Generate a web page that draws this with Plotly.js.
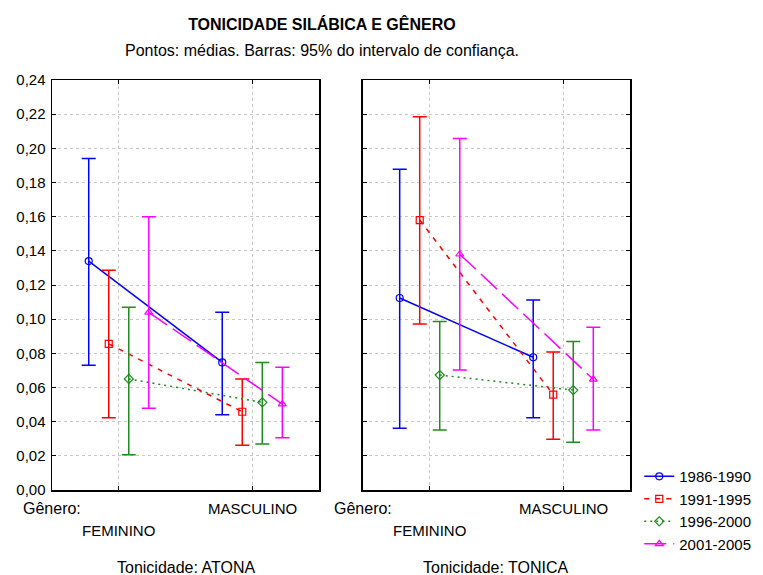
<!DOCTYPE html>
<html>
<head>
<meta charset="utf-8">
<script src="https://cdn.plot.ly/plotly-3.0.1.min.js"></script>
<style>
html,body{margin:0;padding:0;background:#fff;}
#chart{width:763px;height:575px;}
</style>
</head>
<body>
<div id="chart"></div>
<script>
// ---- data ----
const generos = ['FEMININO', 'MASCULINO'];
const periodos = ['1986-1990', '1991-1995', '1996-2000', '2001-2005'];
// each row = one period, values = [FEMININO, MASCULINO]
const atonaMedia = [[0.134, 0.0747], [0.0855, 0.0458], [0.065, 0.0513], [0.104, 0.0503]];
const atonaSup   = [[0.194, 0.104],  [0.1286, 0.065],  [0.107, 0.0747], [0.160, 0.0718]];
const atonaInf   = [[0.073, 0.0441], [0.0423, 0.0262], [0.0207, 0.0269], [0.0478, 0.0306]];
const tonicaMedia = [[0.1124, 0.0777], [0.158, 0.0558], [0.0673, 0.0585], [0.138, 0.0648]];
const tonicaSup   = [[0.1877, 0.1112], [0.2185, 0.0808], [0.0987, 0.087], [0.2057, 0.0952]];
const tonicaInf   = [[0.0361, 0.0423], [0.0972, 0.0297], [0.0351, 0.0279], [0.0702, 0.0351]];
const paineis = ['Tonicidade: ATONA', 'Tonicidade: TONICA'];

// ---- styles ----
const cores = ['#0000ff', '#ff0000', '#1e8c1e', '#ff00ff'];
const simbolos = ['circle-open', 'square-open', 'diamond-open', 'triangle-up-open'];
const tracos = ['solid', '5px,6px', '2px,4px', '22px,7px'];
const FONT = '"Liberation Sans", Arial, sans-serif';

const traces = [];
function addPanel(media, sup, inf, xa, ya, showLeg) {
  periodos.forEach((p, i) => {
    traces.push({
      type: 'scatter', mode: 'lines+markers',
      x: generos, y: media[i],
      xaxis: xa, yaxis: ya,
      name: p, legendgroup: p, showlegend: showLeg,
      line: {color: cores[i], width: 1.5, dash: tracos[i]},
      marker: {symbol: simbolos[i], size: 7, color: cores[i], line: {width: 1.2, color: cores[i]}},
      error_y: {
        type: 'data', symmetric: false,
        array: sup[i].map((v, k) => v - media[i][k]),
        arrayminus: inf[i].map((v, k) => media[i][k] - v),
        color: cores[i], thickness: 1.5, width: 7
      }
    });
  });
}
addPanel(atonaMedia, atonaSup, atonaInf, 'x', 'y', true);
addPanel(tonicaMedia, tonicaSup, tonicaInf, 'x2', 'y2', false);

const xBase = {
  type: 'category', range: [-0.5, 1.5],
  showline: true, linecolor: '#000', linewidth: 1.5, mirror: 'ticks',
  ticks: 'inside', ticklen: 4, tickcolor: '#000', tickwidth: 1,
  showgrid: true, gridcolor: '#c8c8c8', griddash: 'dot', gridwidth: 1,
  zeroline: false, showticklabels: false, fixedrange: true, automargin: false
};
const yBase = {
  range: [0, 0.24], dtick: 0.02, tick0: 0, tickformat: '.2f',
  showline: true, linecolor: '#000', linewidth: 1.5, mirror: 'ticks',
  ticks: 'inside', ticklen: 4, tickcolor: '#000', tickwidth: 1,
  showgrid: true, gridcolor: '#c8c8c8', griddash: 'dot', gridwidth: 1,
  zeroline: false, tickfont: {family: FONT, size: 15, color: '#000'},
  ticklabelstandoff: 2, automargin: false,
  fixedrange: true
};

const dom1 = [0, 0.462], dom2 = [0.538, 1];
const annotations = [];
[['x', dom1], ['x2', dom2]].forEach(([xa, dom], k) => {
  annotations.push({xref: xa, yref: 'paper', x: generos[0], y: -0.098, text: generos[0], showarrow: false,
    font: {family: FONT, size: 15, color: '#000'}, xanchor: 'center', yanchor: 'middle'});
  annotations.push({xref: xa, yref: 'paper', x: generos[1], y: -0.044, text: generos[1], showarrow: false,
    font: {family: FONT, size: 15, color: '#000'}, xanchor: 'center', yanchor: 'middle'});
  annotations.push({xref: 'paper', yref: 'paper', x: dom[0], y: -0.044, text: 'Gênero:', showarrow: false,
    font: {family: FONT, size: 16, color: '#000'}, xanchor: 'center', yanchor: 'middle'});
  annotations.push({xref: 'paper', yref: 'paper', x: (dom[0] + dom[1]) / 2, y: -0.188, text: paineis[k], showarrow: false,
    font: {family: FONT, size: 16, color: '#000'}, xanchor: 'center', yanchor: 'middle'});
});
annotations.push({xref: 'paper', yref: 'paper', x: 0.467, y: 1.071,
  text: 'Pontos: médias. Barras: 95% do intervalo de confiança.', showarrow: false,
  font: {family: FONT, size: 16, color: '#000'}, xanchor: 'center', yanchor: 'middle'});

const layout = {
  width: 763, height: 575,
  margin: {l: 52, r: 133, t: 80, b: 85, autoexpand: false},
  paper_bgcolor: '#fff', plot_bgcolor: '#fff',
  separators: ',.',
  font: {family: FONT, size: 15, color: '#000'},
  title: {text: '<b>TONICIDADE SILÁBICA E GÊNERO</b>', xref: 'paper', x: 0.467, xanchor: 'center',
    yref: 'container', y: 1 - 24 / 575, yanchor: 'middle', font: {family: FONT, size: 16, color: '#000'}},
  scattermode: 'group', scattergap: 0.4,
  xaxis: Object.assign({}, xBase, {domain: dom1, anchor: 'y'}),
  yaxis: Object.assign({}, yBase, {anchor: 'x'}),
  xaxis2: Object.assign({}, xBase, {domain: dom2, anchor: 'y2'}),
  yaxis2: Object.assign({}, yBase, {anchor: 'x2', showticklabels: false}),
  showlegend: true,
  legend: {x: 1.016, y: 0.073, xanchor: 'left', yanchor: 'top', xref: 'paper', yref: 'paper',
    font: {family: FONT, size: 15, color: '#000'}, bgcolor: 'rgba(0,0,0,0)', tracegroupgap: 0,
    itemwidth: 30},
  annotations: annotations
};

Plotly.newPlot('chart', traces, layout, {displayModeBar: false, staticPlot: true});
</script>
</body>
</html>
